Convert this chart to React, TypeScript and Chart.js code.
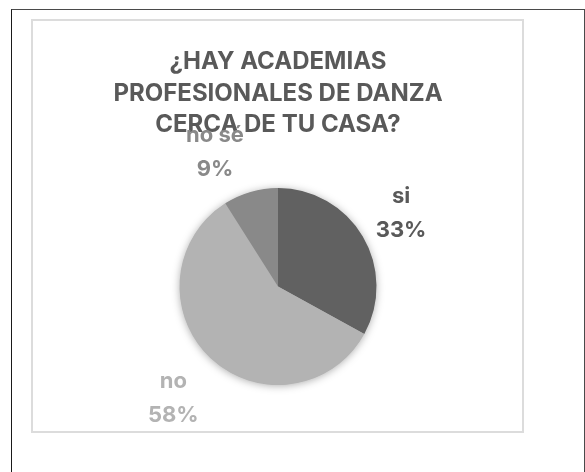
import React, { useEffect, useRef } from "react";
import { Chart, registerables } from "chart.js";

Chart.register(...registerables);

const titleLines = ["¿HAY ACADEMIAS", "PROFESIONALES DE DANZA", "CERCA DE TU CASA?"];
const categories = ["si", "no", "no sé"];
const values = [33, 58, 9];
const sliceColors = ["#616161", "#b3b3b3", "#898989"];
const labelColors = ["#595959", "#b3b3b3", "#898989"];

const FONT = "Inter, 'DejaVu Sans', sans-serif";

const shadowPlugin = {
  id: "pieShadow",
  beforeDatasetsDraw(chart: any) {
    const meta = chart.getDatasetMeta(0);
    const arc = meta.data[0];
    if (!arc) return;
    const { x, y, outerRadius } = arc.getProps(["x", "y", "outerRadius"], true);
    const ctx = chart.ctx;
    ctx.save();
    ctx.shadowColor = "rgba(0,0,0,0.35)";
    ctx.shadowBlur = 8;
    ctx.shadowOffsetX = 0;
    ctx.shadowOffsetY = 1;
    ctx.beginPath();
    ctx.arc(x, y, outerRadius - 0.5, 0, Math.PI * 2);
    ctx.fillStyle = "#b3b3b3";
    ctx.fill();
    ctx.restore();
  },
};

const labelPlugin = {
  id: "outsideLabels",
  afterDatasetsDraw(chart: any, _args: any, opts: any) {
    const meta = chart.getDatasetMeta(0);
    const ds = chart.data.datasets[0];
    const data: number[] = ds.data as number[];
    const total = data.reduce((a, b) => a + b, 0);
    const ctx = chart.ctx;
    ctx.save();
    ctx.font = `bold ${opts.size}px ${FONT}`;
    ctx.textAlign = "center";
    ctx.textBaseline = "middle";
    meta.data.forEach((arc: any, i: number) => {
      const p = arc.getProps(["x", "y", "startAngle", "endAngle", "outerRadius"], true);
      const mid = (p.startAngle + p.endAngle) / 2 + (opts.angleShift[i] * Math.PI) / 180;
      const d = p.outerRadius + opts.extra[i];
      const cx = p.x + Math.cos(mid) * d;
      const cy = p.y + Math.sin(mid) * d;
      const pct = Math.round((data[i] / total) * 100) + "%";
      ctx.fillStyle = opts.colors[i];
      ctx.fillText(chart.data.labels[i], cx, cy - opts.gap / 2);
      ctx.fillText(pct, cx, cy + opts.gap / 2);
    });
    ctx.restore();
  },
};

export default function App() {
  const ref = useRef<HTMLCanvasElement | null>(null);
  useEffect(() => {
    document.body.style.margin = "0";
    if (!ref.current) return;
    const chart = new Chart(ref.current, {
      type: "pie",
      data: {
        labels: categories,
        datasets: [
          {
            data: values,
            backgroundColor: sliceColors,
            borderWidth: 0,
          },
        ],
      },
      options: {
        animation: false,
        responsive: false,
        maintainAspectRatio: false,
        layout: { padding: { top: 0, bottom: 87, left: 0, right: 0 } },
        plugins: {
          legend: { display: false },
          tooltip: { enabled: false },
          title: {
            display: true,
            text: titleLines,
            color: "#595959",
            font: { family: FONT, size: 24, weight: "bold", lineHeight: 1.32 },
            padding: { top: 46, bottom: 47 },
          },
          outsideLabels: {
            size: 22,
            gap: 34,
            colors: labelColors,
            extra: [44.5, 54.5, 49.5],
            angleShift: [0, 0, -9],
          },
        } as any,
      },
      plugins: [shadowPlugin, labelPlugin],
    });
    return () => chart.destroy();
  }, []);

  return (
    <div style={{ position: "relative", width: 585, height: 472, overflow: "hidden", background: "#fff" }}>
      <div
        style={{
          position: "absolute",
          left: 11,
          top: 9,
          width: 572,
          height: 520,
          borderLeft: "1px solid #1a1a1a",
          borderTop: "1px solid #4a4a4a",
          borderRight: "1px solid #4a4a4a",
        }}
      />
      <div
        style={{
          position: "absolute",
          left: 31,
          top: 19,
          width: 489,
          height: 410,
          border: "2px solid #dcdcdc",
        }}
      />
      <canvas
        ref={ref}
        width={494}
        height={472}
        style={{ position: "absolute", left: 31, top: 0, width: 494, height: 472 }}
      />
    </div>
  );
}
